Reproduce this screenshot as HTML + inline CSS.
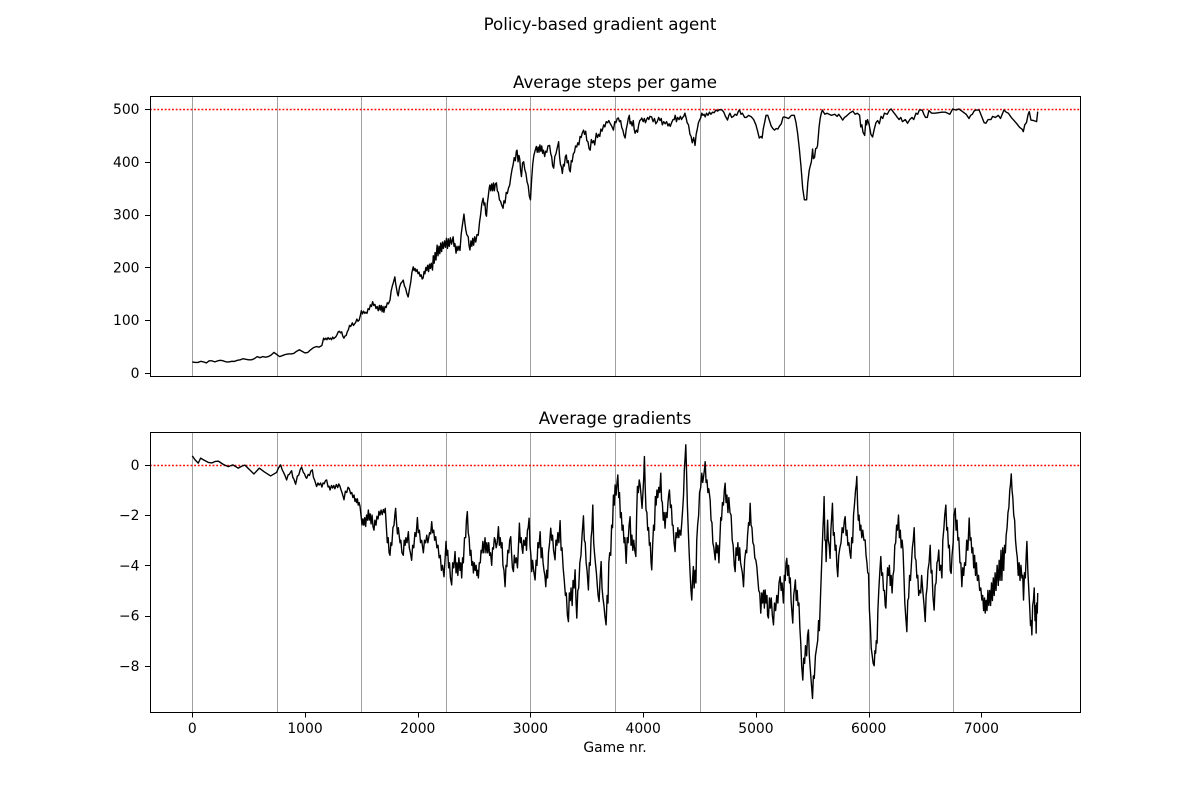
<!DOCTYPE html>
<html lang="en">
<head>
<meta charset="utf-8">
<title>Policy-based gradient agent</title>
<style>
html,body{margin:0;padding:0;background:#fff;width:1200px;height:800px;overflow:hidden}
svg{display:block}
text{font-family:"DejaVu Sans","Liberation Sans",sans-serif;fill:#000}
</style>
</head>
<body>
<svg id="chart" xmlns="http://www.w3.org/2000/svg" width="1200" height="800" viewBox="0 0 1200 800">
<rect x="0" y="0" width="1200" height="800" fill="#fff"/>
<text x="600" y="30" font-size="16.67" text-anchor="middle">Policy-based gradient agent</text>
<text x="615" y="88" font-size="16.67" text-anchor="middle">Average steps per game</text>
<text x="615" y="424" font-size="16.67" text-anchor="middle">Average gradients</text>
<text x="615" y="752" font-size="13.89" text-anchor="middle">Game nr.</text>
<g id="steps-panel"></g>
<g id="gradients-panel"></g>
</svg>
<script>
const xTickLabels = [0, 1000, 2000, 3000, 4000, 5000, 6000, 7000];
const stepsTickLabels = [0, 100, 200, 300, 400, 500];
const gradientTickLabels = [-8, -6, -4, -2, 0];
const checkpointGames = [0, 750, 1500, 2250, 3000, 3750, 4500, 5250, 6000, 6750];
const stepsTarget = 500;
const gradientTarget = 0;
const stepsSeries = [[0,21],[25,20],[50,20],[75,22],[100,21],[125,19],[150,23],[175,23],[200,21],[225,23],[250,24],[275,23],[300,21],[325,21],[350,22],[375,22],[400,24],[425,25],[450,27],[475,26],[500,25],[525,25],[550,27],[575,31],[600,29],[625,31],[650,30],[675,31],[700,34],[725,39],[750,35],[775,31],[800,33],[825,35],[850,36],[875,36],[900,37],[925,41],[950,44],[975,41],[1000,38],[1025,39],[1050,44],[1075,48],[1100,50],[1125,49],[1150,52],[1165,66],[1175,63],[1185,66],[1195,63],[1205,67],[1215,64],[1225,66],[1235,63],[1245,68],[1255,65],[1265,67],[1275,69],[1285,73],[1295,78],[1305,79],[1315,76],[1325,78],[1335,70],[1345,66],[1355,70],[1365,71],[1375,78],[1385,82],[1395,90],[1405,88],[1420,95],[1430,90],[1440,93],[1450,96],[1460,102],[1470,98],[1480,100],[1490,108],[1500,118],[1510,112],[1520,117],[1530,113],[1540,115],[1550,113],[1560,122],[1570,120],[1580,129],[1590,126],[1600,135],[1610,128],[1620,130],[1630,122],[1640,126],[1650,118],[1660,128],[1668,119],[1676,128],[1684,116],[1692,126],[1700,115],[1710,126],[1720,124],[1730,133],[1740,131],[1754,138],[1764,155],[1775,165],[1785,172],[1797,182],[1805,168],[1812,160],[1820,150],[1827,146],[1838,162],[1850,170],[1860,172],[1871,176],[1882,165],[1893,160],[1904,150],[1915,144],[1926,158],[1938,172],[1948,190],[1960,201],[1968,194],[1976,198],[1985,192],[1994,196],[2003,188],[2012,191],[2021,183],[2030,186],[2040,178],[2048,180],[2056,192],[2064,188],[2072,200],[2080,194],[2088,204],[2096,192],[2104,206],[2112,198],[2120,208],[2131,195],[2138,222],[2146,208],[2154,228],[2162,214],[2172,242],[2180,222],[2188,240],[2196,226],[2204,246],[2212,230],[2220,248],[2228,236],[2238,250],[2246,238],[2255,255],[2264,236],[2272,254],[2280,240],[2290,256],[2300,244],[2314,258],[2322,240],[2330,245],[2340,227],[2348,240],[2356,232],[2365,240],[2375,232],[2385,262],[2395,278],[2403,290],[2410,301],[2418,285],[2426,272],[2435,262],[2448,258],[2455,242],[2463,233],[2472,250],[2480,240],[2488,255],[2496,242],[2505,258],[2515,248],[2525,262],[2537,261],[2548,285],[2558,300],[2568,320],[2580,331],[2588,318],[2596,322],[2604,300],[2610,297],[2618,322],[2626,335],[2634,350],[2640,356],[2648,345],[2656,358],[2664,345],[2672,360],[2680,345],[2688,358],[2698,360],[2706,345],[2715,342],[2725,328],[2735,325],[2745,318],[2757,312],[2765,326],[2775,322],[2785,342],[2795,340],[2805,350],[2816,356],[2826,372],[2836,385],[2846,394],[2856,408],[2866,402],[2875,420],[2881,422],[2890,400],[2898,412],[2905,405],[2912,385],[2920,372],[2930,398],[2940,400],[2950,385],[2960,378],[2970,362],[2980,355],[2990,335],[3000,328],[3010,365],[3020,395],[3030,412],[3040,420],[3052,429],[3060,418],[3068,428],[3076,418],[3084,432],[3092,420],[3100,430],[3108,416],[3116,422],[3126,410],[3135,420],[3145,418],[3155,430],[3170,431],[3180,415],[3188,410],[3197,392],[3206,388],[3216,410],[3226,415],[3236,425],[3250,438],[3258,410],[3266,395],[3275,390],[3283,378],[3292,395],[3300,392],[3310,410],[3318,413],[3326,398],[3335,402],[3345,385],[3353,381],[3362,402],[3370,400],[3380,415],[3390,418],[3400,430],[3410,428],[3420,436],[3430,432],[3440,448],[3450,446],[3460,455],[3471,460],[3480,452],[3490,458],[3500,440],[3510,438],[3520,425],[3530,422],[3540,442],[3550,436],[3560,440],[3570,432],[3584,454],[3595,446],[3605,452],[3615,448],[3625,462],[3635,458],[3650,470],[3660,466],[3672,476],[3685,474],[3695,478],[3706,473],[3720,468],[3736,460],[3748,476],[3758,474],[3770,482],[3780,483],[3790,476],[3800,478],[3810,465],[3820,460],[3830,450],[3840,445],[3850,462],[3858,470],[3868,482],[3877,488],[3884,472],[3892,476],[3902,468],[3912,478],[3920,462],[3928,454],[3940,460],[3950,456],[3960,470],[3970,478],[3980,480],[3987,483],[4000,476],[4010,482],[4020,474],[4030,480],[4040,484],[4050,480],[4060,486],[4075,485],[4088,476],[4100,482],[4112,472],[4125,476],[4137,484],[4150,478],[4160,482],[4170,470],[4182,476],[4195,472],[4208,476],[4220,468],[4230,472],[4240,467],[4252,474],[4265,480],[4275,480],[4284,488],[4295,476],[4305,484],[4318,480],[4330,486],[4340,480],[4350,484],[4360,486],[4370,492],[4380,484],[4390,474],[4402,470],[4415,452],[4425,448],[4435,436],[4448,446],[4460,431],[4470,452],[4480,462],[4490,474],[4498,478],[4510,483],[4520,492],[4530,488],[4540,490],[4550,485],[4562,492],[4575,488],[4588,494],[4600,490],[4615,494],[4630,493],[4645,498],[4660,496],[4680,499],[4700,498],[4715,494],[4730,486],[4748,479],[4760,488],[4770,492],[4785,484],[4800,486],[4815,490],[4830,488],[4845,496],[4855,498],[4868,490],[4880,492],[4900,484],[4915,484],[4935,488],[4960,485],[4980,480],[5000,470],[5015,458],[5030,445],[5045,448],[5055,445],[5065,462],[5075,472],[5090,488],[5105,488],[5120,478],[5135,468],[5150,463],[5165,460],[5180,463],[5195,462],[5210,468],[5225,472],[5240,484],[5250,485],[5265,484],[5290,482],[5315,488],[5340,488],[5355,475],[5370,454],[5385,425],[5400,391],[5415,350],[5430,328],[5450,328],[5460,360],[5473,384],[5482,392],[5492,400],[5503,424],[5510,406],[5520,408],[5530,425],[5540,426],[5547,431],[5560,465],[5570,482],[5580,492],[5590,498],[5600,494],[5612,490],[5630,492],[5650,490],[5670,488],[5700,490],[5720,486],[5735,490],[5755,484],[5770,479],[5785,484],[5800,486],[5830,492],[5860,496],[5880,490],[5900,492],[5920,488],[5930,466],[5940,470],[5950,456],[5965,450],[5975,478],[5982,470],[5990,480],[6005,470],[6020,452],[6035,447],[6050,462],[6065,474],[6080,478],[6095,472],[6110,486],[6125,482],[6140,492],[6165,490],[6185,498],[6200,500],[6220,494],[6235,490],[6255,484],[6270,480],[6285,484],[6300,476],[6325,480],[6345,473],[6365,480],[6385,484],[6400,480],[6420,492],[6435,490],[6450,498],[6475,498],[6490,490],[6505,484],[6520,484],[6535,497],[6560,492],[6590,492],[6620,493],[6650,494],[6680,494],[6720,490],[6745,500],[6775,498],[6800,500],[6820,497],[6840,494],[6865,490],[6890,482],[6905,488],[6920,490],[6935,496],[6950,498],[6980,498],[6995,490],[7010,482],[7025,474],[7040,473],[7060,480],[7085,480],[7100,486],[7125,484],[7150,488],[7170,482],[7185,490],[7200,498],[7220,494],[7240,492],[7265,484],[7290,478],[7315,472],[7340,465],[7360,462],[7372,457],[7385,470],[7400,474],[7415,490],[7425,495],[7440,479],[7465,478],[7490,476],[7500,495]];
const gradientSeries = [[0,0.36],[25,0.2],[53,0.07],[74,0.27],[100,0.2],[142,0.1],[175,0.08],[205,0.14],[231,0.15],[275,0.02],[319,-0.07],[360,0],[408,-0.13],[440,-0.05],[467,-0.01],[510,-0.2],[547,-0.36],[595,-0.13],[640,-0.28],[695,-0.44],[725,-0.36],[748,-0.3],[765,-0.12],[784,0],[798,-0.2],[810,-0.3],[825,-0.45],[837,-0.6],[850,-0.4],[860,-0.38],[881,-0.23],[892,-0.5],[900,-0.55],[917,-0.77],[932,-0.45],[945,-0.4],[958,-0.18],[970,-0.09],[985,-0.3],[995,-0.35],[1008,-0.5],[1015,-0.53],[1028,-0.38],[1040,-0.42],[1052,-0.25],[1065,-0.2],[1075,-0.5],[1085,-0.6],[1095,-0.75],[1103,-0.86],[1115,-0.72],[1125,-0.8],[1138,-0.72],[1150,-0.88],[1160,-0.72],[1170,-0.75],[1182,-0.62],[1192,-0.6],[1205,-0.88],[1214,-0.85],[1222,-1],[1235,-0.82],[1245,-0.92],[1255,-0.82],[1265,-0.95],[1278,-0.78],[1290,-0.9],[1300,-0.76],[1310,-0.85],[1320,-1],[1328,-1.1],[1338,-1.25],[1346,-1.39],[1358,-1.05],[1370,-1.1],[1382,-0.89],[1393,-0.95],[1405,-1.15],[1415,-1.1],[1425,-1.3],[1435,-1.2],[1443,-1.45],[1450,-1.35],[1458,-1.5],[1465,-1.35],[1472,-1.6],[1480,-1.5],[1488,-1.65],[1497,-2],[1506,-2.39],[1514,-2.15],[1522,-2.4],[1530,-2.1],[1538,-2.45],[1546,-2],[1554,-2.2],[1562,-1.8],[1570,-2.2],[1578,-1.95],[1586,-2.35],[1595,-2],[1603,-2.45],[1612,-2.6],[1620,-2.2],[1630,-2.4],[1638,-2.05],[1648,-2.15],[1656,-1.85],[1665,-2],[1675,-1.8],[1685,-1.98],[1695,-1.78],[1705,-1.9],[1712,-1.73],[1722,-2.5],[1730,-3.1],[1738,-2.9],[1746,-3.5],[1754,-3.6],[1762,-3.1],[1770,-3.2],[1780,-2.5],[1790,-2.4],[1797,-2],[1804,-1.73],[1812,-2.3],[1820,-2.75],[1828,-2.5],[1835,-2.8],[1843,-3.1],[1850,-3],[1860,-3.5],[1872,-3.6],[1880,-3],[1888,-3.2],[1895,-2.9],[1905,-3.1],[1917,-2.66],[1925,-3.3],[1935,-3.5],[1946,-3.8],[1955,-3.2],[1965,-3.3],[1975,-2.7],[1985,-2.85],[1997,-2.1],[2005,-2.7],[2015,-2.6],[2025,-3.1],[2035,-3],[2050,-3.5],[2060,-3],[2070,-3.1],[2080,-2.8],[2090,-3.1],[2105,-2.7],[2115,-2.75],[2124,-2.26],[2132,-2.7],[2142,-2.6],[2150,-3],[2160,-2.86],[2170,-3.3],[2180,-3.2],[2190,-3.7],[2200,-3.6],[2210,-4.2],[2220,-4],[2233,-4.45],[2242,-3.8],[2251,-3.05],[2258,-3.6],[2266,-3.4],[2274,-4.1],[2282,-3.9],[2290,-4.5],[2301,-4.78],[2310,-3.9],[2320,-4.1],[2331,-3.45],[2340,-4.3],[2348,-3.9],[2356,-4.4],[2365,-3.7],[2375,-4.2],[2382,-3.9],[2390,-4.5],[2398,-3.7],[2405,-3.9],[2415,-2.9],[2425,-2.9],[2432,-2.2],[2440,-1.86],[2448,-2.7],[2456,-2.9],[2464,-3.6],[2472,-3.4],[2480,-4],[2488,-3.85],[2494,-4.3],[2502,-3.9],[2510,-4.2],[2518,-4],[2525,-4.4],[2532,-4.2],[2538,-4.5],[2546,-3.9],[2555,-3.9],[2562,-3.4],[2570,-3.5],[2578,-3.05],[2586,-3.5],[2597,-2.9],[2605,-3.5],[2613,-3.1],[2621,-3.5],[2630,-3.1],[2638,-3.6],[2646,-3.5],[2656,-4],[2664,-3.3],[2672,-3.35],[2680,-2.9],[2688,-3],[2696,-3.3],[2705,-3.1],[2716,-2.46],[2724,-3.2],[2732,-2.9],[2740,-3.3],[2748,-3.1],[2756,-4],[2765,-4.2],[2775,-4.85],[2783,-4],[2791,-4.05],[2799,-3.4],[2808,-3.5],[2816,-3],[2825,-2.86],[2832,-3.5],[2840,-4.1],[2849,-4.25],[2857,-3.6],[2865,-3.9],[2875,-3.7],[2885,-4.1],[2893,-3.3],[2902,-2.32],[2910,-3.1],[2918,-2.9],[2925,-3.3],[2932,-3.52],[2940,-3],[2950,-3.2],[2958,-2.9],[2965,-3.4],[2973,-2.6],[2980,-2.5],[2988,-2.12],[2996,-3.2],[3004,-3.6],[3011,-4.25],[3019,-3.8],[3028,-4.2],[3041,-4.58],[3050,-3.8],[3058,-4],[3066,-3.1],[3075,-3.3],[3086,-2.66],[3095,-3.7],[3103,-3.3],[3112,-3.9],[3120,-4.2],[3128,-4.4],[3136,-4.85],[3144,-4.2],[3152,-4.5],[3160,-3.5],[3170,-3.1],[3180,-2.52],[3188,-3],[3196,-2.8],[3205,-3.4],[3218,-3.78],[3226,-3],[3235,-3.2],[3243,-2.7],[3252,-3.1],[3263,-2.22],[3272,-3.4],[3280,-3.3],[3290,-4.1],[3300,-4.6],[3310,-5.2],[3318,-5.1],[3328,-6],[3337,-6.24],[3345,-5.1],[3353,-5.4],[3360,-4.9],[3370,-5.6],[3378,-4.6],[3387,-4.9],[3396,-4.18],[3404,-5.4],[3411,-6.1],[3420,-5],[3428,-4.9],[3438,-3.9],[3448,-3.6],[3458,-2.8],[3470,-2.03],[3478,-3],[3486,-3.1],[3494,-3.9],[3502,-4.2],[3514,-4.98],[3522,-3.9],[3530,-4],[3538,-2.9],[3545,-2.6],[3553,-1.6],[3561,-3.1],[3568,-3.5],[3576,-3.9],[3585,-4.3],[3593,-4.8],[3600,-5.2],[3609,-5.44],[3617,-4.6],[3627,-3.85],[3635,-4.9],[3643,-5.3],[3652,-5.6],[3660,-6],[3671,-6.37],[3680,-5.2],[3688,-5.5],[3695,-3.9],[3703,-3.5],[3712,-3.6],[3720,-2.4],[3728,-2.5],[3736,-1.2],[3744,-1.6],[3751,-0.8],[3760,-1.2],[3768,-0.7],[3775,-0.4],[3783,-1.3],[3790,-1.1],[3798,-2.1],[3806,-1.9],[3813,-2.6],[3822,-2.4],[3830,-3.1],[3838,-2.9],[3849,-3.92],[3858,-2.9],[3866,-3.1],[3875,-2.4],[3884,-2.06],[3892,-3.2],[3900,-2.8],[3908,-3.4],[3916,-3],[3925,-3.4],[3935,-3.65],[3942,-2],[3949,-0.86],[3957,-1.1],[3965,-0.6],[3973,-0.8],[3981,-1.2],[3990,-1.73],[3998,-1.1],[4005,-0.5],[4011,0.33],[4018,-0.9],[4025,-1.79],[4033,-1.9],[4040,-2.6],[4048,-2.5],[4055,-3.2],[4063,-3.1],[4070,-3.9],[4076,-4.18],[4084,-3.2],[4092,-2.4],[4100,-2.6],[4108,-1.26],[4115,-1.6],[4122,-1],[4130,-1.3],[4138,-0.9],[4147,-1.1],[4156,-0.33],[4163,-1.4],[4170,-1.5],[4178,-2.2],[4186,-1.9],[4194,-2.52],[4202,-1.9],[4212,-2.1],[4220,-1.5],[4226,-1.2],[4233,-1],[4242,-1.7],[4250,-1.6],[4258,-2.4],[4265,-2.4],[4274,-3.1],[4283,-3.45],[4291,-2.7],[4300,-2.9],[4308,-2.5],[4316,-2.9],[4324,-2.6],[4334,-2.8],[4342,-2.32],[4350,-1.8],[4358,-1.2],[4365,-0.2],[4372,0.3],[4378,0.8],[4385,-0.3],[4392,-1.6],[4400,-2.6],[4408,-3.5],[4416,-4.3],[4424,-5],[4431,-5.38],[4438,-4.6],[4445,-4.05],[4452,-4.9],[4460,-4.2],[4468,-4.7],[4475,-3],[4483,-2.4],[4492,-2],[4500,-1.1],[4510,-0.9],[4520,-0.33],[4528,-0.7],[4535,-0.5],[4543,-0.2],[4550,0.13],[4558,-0.7],[4566,-0.6],[4574,-1.1],[4582,-0.95],[4594,-1.39],[4602,-2.2],[4610,-2.3],[4618,-3.1],[4627,-3.3],[4639,-3.78],[4647,-3.1],[4655,-3.5],[4663,-3.2],[4672,-3.9],[4680,-3],[4688,-2.1],[4695,-2.2],[4703,-1.5],[4712,-1.6],[4720,-1],[4727,-0.73],[4735,-1.5],[4743,-1.2],[4752,-1.9],[4760,-1.3],[4770,-1.9],[4780,-2],[4790,-3],[4798,-3.2],[4808,-4],[4816,-4.25],[4824,-3.3],[4832,-3.6],[4840,-3.1],[4848,-3.8],[4856,-3.3],[4864,-3.9],[4872,-4.1],[4880,-4.3],[4890,-4.85],[4900,-3.8],[4910,-3.4],[4918,-3.5],[4926,-2.8],[4935,-2.3],[4942,-2.4],[4949,-1.53],[4957,-2.4],[4965,-2.5],[4973,-3.1],[4982,-3.2],[4990,-3.7],[5000,-3.8],[5008,-4.05],[5016,-4.5],[5025,-5],[5034,-5.1],[5043,-5.9],[5052,-5.1],[5060,-5.5],[5068,-5],[5075,-5.7],[5082,-4.98],[5090,-5.5],[5098,-5.2],[5104,-6],[5111,-6.1],[5120,-5.3],[5128,-5.7],[5136,-5.3],[5146,-6],[5156,-6.37],[5165,-5.5],[5175,-5.8],[5185,-5.2],[5195,-5.5],[5205,-4.7],[5215,-4.45],[5224,-5],[5232,-4.7],[5244,-5.5],[5252,-4.4],[5260,-4.6],[5267,-3.9],[5274,-3.72],[5282,-4.4],[5290,-4],[5298,-4.7],[5305,-4.5],[5312,-5.4],[5320,-5.9],[5327,-6.3],[5335,-5.2],[5343,-4.9],[5350,-4.58],[5358,-5.4],[5366,-5],[5374,-5.6],[5382,-5.5],[5390,-6.5],[5398,-7.1],[5406,-8],[5416,-8.57],[5424,-7.7],[5432,-7.9],[5440,-7.2],[5450,-7.6],[5458,-6.8],[5466,-6.57],[5474,-7.6],[5482,-8.1],[5490,-8.6],[5502,-9.3],[5510,-8.4],[5518,-8.5],[5528,-7.6],[5540,-7.24],[5548,-7],[5556,-6.2],[5563,-6.6],[5570,-5.64],[5578,-4.6],[5586,-3.6],[5594,-2.6],[5600,-2],[5605,-1.26],[5612,-3],[5618,-3],[5623,-3.85],[5630,-2.9],[5636,-2.2],[5642,-3],[5650,-3.2],[5658,-3.72],[5665,-2.6],[5672,-2.1],[5679,-1.53],[5687,-2.8],[5695,-2.7],[5703,-3.4],[5711,-3.2],[5718,-4],[5726,-4.45],[5735,-3.6],[5745,-3.3],[5755,-3.1],[5765,-2.5],[5775,-2.7],[5785,-2.2],[5792,-2.06],[5800,-2.8],[5808,-2.6],[5816,-3.2],[5825,-3.1],[5834,-3.5],[5842,-3.72],[5850,-2.9],[5858,-3.1],[5866,-2],[5874,-1.6],[5884,-1],[5890,-0.8],[5895,-0.46],[5902,-1.6],[5908,-2.2],[5915,-2],[5923,-2.6],[5931,-2.4],[5939,-2.9],[5948,-2.6],[5958,-3],[5969,-2.99],[5977,-3.6],[5985,-3.9],[5992,-4.3],[5999,-4.32],[6007,-5.8],[6015,-6.4],[6023,-7.3],[6032,-7.6],[6040,-7.9],[6049,-8],[6056,-7.4],[6062,-7.5],[6068,-7],[6075,-7.1],[6082,-5.8],[6090,-5],[6100,-4.2],[6108,-3.65],[6116,-4.4],[6124,-4.3],[6132,-5],[6140,-5],[6147,-5.6],[6153,-5.7],[6160,-4.9],[6168,-4.1],[6176,-4.4],[6184,-4],[6192,-4.8],[6200,-4.4],[6208,-5.1],[6216,-4.4],[6224,-4.2],[6232,-3.2],[6240,-3.1],[6248,-2.4],[6256,-2.6],[6265,-2],[6273,-2.9],[6281,-2.6],[6289,-3.3],[6297,-3],[6305,-3.4],[6313,-4.4],[6321,-5.5],[6330,-6.1],[6339,-6.64],[6347,-5.4],[6355,-5.3],[6363,-4.4],[6371,-4.6],[6380,-3.9],[6388,-3.3],[6396,-3],[6404,-2.5],[6412,-3.7],[6420,-3.8],[6428,-4.5],[6436,-4.4],[6444,-5.2],[6452,-5],[6462,-5.1],[6470,-4.4],[6480,-5],[6490,-5.5],[6502,-6.24],[6510,-5.2],[6518,-4.9],[6526,-4.2],[6536,-3.9],[6546,-3.2],[6554,-4.3],[6562,-4.2],[6570,-5.2],[6581,-5.78],[6590,-4.8],[6598,-4.7],[6606,-3.9],[6614,-3.8],[6622,-3.39],[6630,-4.2],[6640,-4],[6650,-4.5],[6658,-3],[6668,-2.5],[6675,-2],[6685,-1.6],[6693,-2.6],[6700,-2.5],[6708,-3.3],[6716,-3.2],[6724,-4.2],[6732,-4.32],[6740,-3.6],[6750,-3.1],[6757,-2],[6768,-1.73],[6776,-2.6],[6784,-2.2],[6792,-3],[6800,-2.9],[6810,-3.9],[6818,-3.9],[6827,-4.85],[6835,-4.1],[6843,-4.4],[6851,-3.9],[6860,-4],[6870,-3],[6880,-3.4],[6892,-2.12],[6900,-3],[6908,-2.9],[6916,-3.5],[6924,-3.3],[6932,-4.1],[6940,-3.6],[6948,-4.4],[6956,-3.9],[6965,-4.6],[6975,-4.4],[6985,-5],[6995,-4.9],[7004,-5.38],[7012,-5.2],[7020,-5.8],[7028,-5.3],[7034,-5.9],[7042,-5.4],[7050,-5.8],[7058,-5],[7066,-5.6],[7074,-5],[7082,-5.6],[7090,-4.7],[7098,-5.4],[7106,-4.5],[7114,-5.2],[7122,-4.3],[7130,-5],[7140,-4],[7150,-4.8],[7158,-3.8],[7166,-4.6],[7174,-3.4],[7182,-4.6],[7190,-3.3],[7198,-4.2],[7206,-3.2],[7213,-3.5],[7220,-2.8],[7228,-2.5],[7236,-1.9],[7244,-1.7],[7252,-1],[7258,-0.8],[7265,-0.36],[7272,-1],[7279,-1.3],[7287,-2],[7295,-2.2],[7303,-3],[7311,-3.4],[7319,-3.7],[7327,-4.4],[7335,-3.9],[7343,-4.6],[7351,-4],[7360,-4.5],[7367,-4.4],[7374,-5.38],[7382,-4.3],[7390,-4.5],[7398,-3.6],[7404,-3.05],[7412,-4.2],[7420,-4.9],[7428,-5.6],[7436,-6.4],[7442,-6.2],[7448,-6.77],[7455,-5.6],[7462,-5.4],[7469,-4.9],[7476,-6.2],[7482,-5.6],[7486,-6.7],[7491,-5.5],[7496,-5.9],[7500,-5.1]];

const svg = 'http://www.w3.org/2000/svg';
const axLeft = 150, axRight = 1080;
const xDomain = [-375, 7875];
function xScale(g) { return axLeft + (g - xDomain[0]) / (xDomain[1] - xDomain[0]) * (axRight - axLeft); }
function makeY(top, bottom, vMin, vMax) { return function (v) { return bottom - (v - vMin) / (vMax - vMin) * (bottom - top); }; }
function add(parent, tag, attrs, text) {
  const el = document.createElementNS(svg, tag);
  for (const k in attrs) el.setAttribute(k, attrs[k]);
  if (text !== undefined) el.textContent = text;
  parent.appendChild(el);
  return el;
}
function snap(v) { return Math.round(v) + 0.5; }

function drawPanel(panelId, top, bottom, yScale, yTicks, series, target, showXAxis) {
  const g = document.getElementById(panelId);
  checkpointGames.forEach(function (game) {
    const x = snap(xScale(game));
    const line = add(g, 'line', { x1: x, x2: x, y1: top, y2: bottom, stroke: '#a0a0a0', 'stroke-width': 1 });
    
    
  });
  const ty = snap(yScale(target));
  const targetLine = add(g, 'line', { x1: axLeft, x2: axRight, y1: ty, y2: ty, stroke: '#f00', 'stroke-width': 1.39, 'stroke-dasharray': '1.8 1.88' });
  
  
  const d = series.map(function (p, i) { return (i ? 'L' : 'M') + xScale(p[0]).toFixed(2) + ' ' + yScale(p[1]).toFixed(2); }).join('');
  const path = add(g, 'path', { d: d, fill: 'none', stroke: '#000', 'stroke-width': 1.39, 'stroke-linejoin': 'round' });
  
  
  const frame = add(g, 'rect', { x: axLeft + 0.5, y: top + 0.5, width: axRight - axLeft, height: bottom - top, fill: 'none', stroke: '#000', 'stroke-width': 1 });
  
  
  if (showXAxis) {
    xTickLabels.forEach(function (t) {
      const x = snap(xScale(t));
      const tick = add(g, 'line', { x1: x, x2: x, y1: bottom, y2: bottom + 5.5, stroke: '#000', 'stroke-width': 1 });
      
      
      const label = add(g, 'text', { x: xScale(t), y: bottom + 21, 'font-size': 13.89, 'text-anchor': 'middle' }, String(t));
      
      
    });
  }
  yTicks.forEach(function (t) {
    const y = snap(yScale(t));
    const tick = add(g, 'line', { x1: axLeft - 5, x2: axLeft, y1: y, y2: y, stroke: '#000', 'stroke-width': 1 });
    
    
    const label = add(g, 'text', { x: axLeft - 10.5, y: yScale(t) + 5, 'font-size': 13.89, 'text-anchor': 'end' }, String(t).replace('-', '\u2212'));
    
    
  });
}

drawPanel('steps-panel', 96, 376, makeY(96, 376, -5.7, 524.6), stepsTickLabels, stepsSeries, stepsTarget, false);
drawPanel('gradients-panel', 432, 712, makeY(432, 712, -9.84, 1.31), gradientTickLabels, gradientSeries, gradientTarget, true);
</script>
</body>
</html>
